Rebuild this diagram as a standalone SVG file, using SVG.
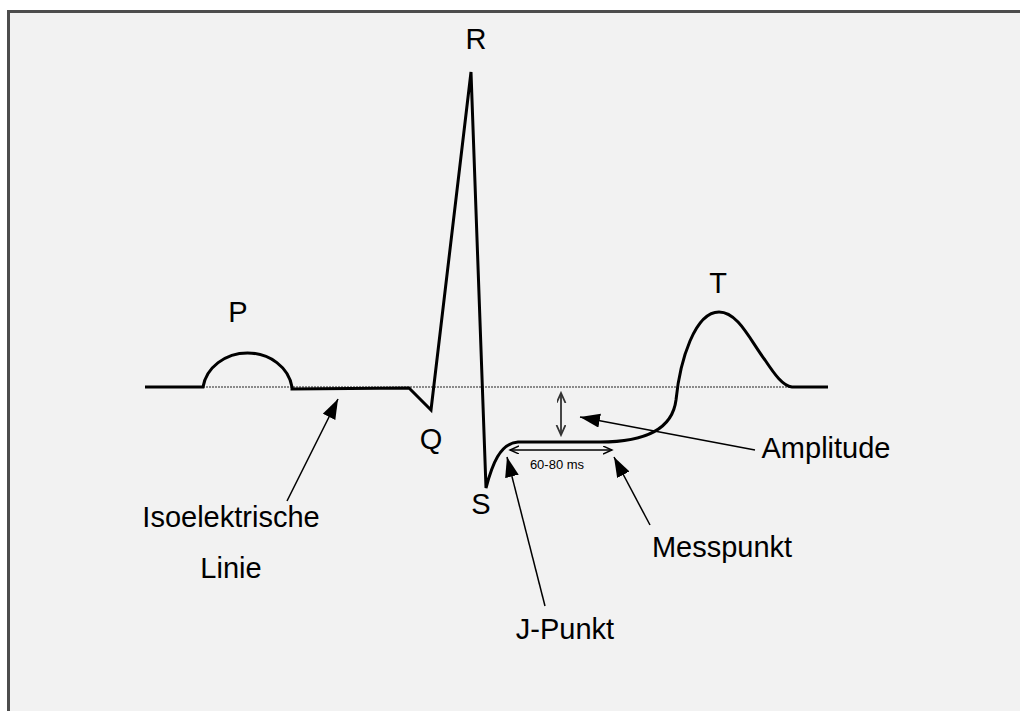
<svg xmlns="http://www.w3.org/2000/svg" width="1020" height="711" viewBox="0 0 1020 711">
<defs>
<style>
.lbl{font-family:"Liberation Sans",Arial,sans-serif;font-size:29px;fill:#000;text-anchor:middle}
.small{font-family:"Liberation Sans",Arial,sans-serif;font-size:13px;fill:#000;text-anchor:middle}
.wave{fill:none;stroke:#000;stroke-width:3;stroke-linejoin:miter}
.callout{fill:none;stroke:#000;stroke-width:1.5}
.dim{fill:none;stroke:#000;stroke-width:1.3}
</style>
<marker id="tri" markerUnits="userSpaceOnUse" markerWidth="22" markerHeight="16" refX="20" refY="7" orient="auto">
<path d="M0,0 L20,7 L0,14 z" fill="#000"/>
</marker>
<marker id="chev" markerUnits="userSpaceOnUse" markerWidth="12" markerHeight="12" refX="9" refY="4" orient="auto-start-reverse">
<path d="M0,0 L9,4 L0,8" fill="none" stroke="#000" stroke-width="1.4"/>
</marker>
<marker id="chev2" markerUnits="userSpaceOnUse" markerWidth="12" markerHeight="12" refX="10" refY="4.5" orient="auto-start-reverse">
<path d="M0,0 L10,4.5 L0,9" fill="none" stroke="#333" stroke-width="1.8"/>
</marker>
</defs>
<rect x="0" y="0" width="1020" height="711" fill="#fff"/>
<rect id="frame" x="8.5" y="11.5" width="1030" height="720" fill="#f2f2f2" stroke="#4d4d4d" stroke-width="3"/>
<g id="baseline">
<line x1="203" y1="387" x2="800" y2="387" stroke="#222" stroke-width="1.1" stroke-dasharray="2 1"/>
</g>
<g id="ecg">
<path class="wave" d="M145 387 L203 387 A45 40 0 0 1 292 387 L292 389 L409 388 L431 410 L471 72 L486 488 C492 465 500 443 518 442 L600 442 C640 442 672 432 676 400 C680 360 695 312 719 312 C738 312 750 340 765 360 C775 375 783 386 792 387 L828 387"/>
</g>
<g id="connectors">
<line class="callout" x1="287" y1="501" x2="338" y2="399" marker-end="url(#tri)"/>
<line class="callout" x1="755" y1="450" x2="580" y2="417" marker-end="url(#tri)"/>
<line class="callout" x1="650" y1="525" x2="614" y2="457" marker-end="url(#tri)"/>
<line class="callout" x1="545" y1="606" x2="507" y2="457" marker-end="url(#tri)"/>
<line class="dim" x1="510" y1="450" x2="612" y2="450" marker-start="url(#chev)" marker-end="url(#chev)"/>
<line x1="561" y1="393" x2="561" y2="435" stroke="#333" stroke-width="1.8" marker-start="url(#chev2)" marker-end="url(#chev2)"/>
</g>
<g id="label-P"><text class="lbl" x="238" y="322">P</text></g>
<g id="label-Q"><text class="lbl" x="431" y="449">Q</text></g>
<g id="label-R"><text class="lbl" x="476" y="49">R</text></g>
<g id="label-S"><text class="lbl" x="481" y="514">S</text></g>
<g id="label-T"><text class="lbl" x="718" y="293">T</text></g>
<g id="label-iso"><text class="lbl" x="231" y="527">Isoelektrische</text><text class="lbl" x="231" y="578">Linie</text></g>
<g id="label-amp"><text class="lbl" x="826" y="458">Amplitude</text></g>
<g id="label-mess"><text class="lbl" x="722" y="557">Messpunkt</text></g>
<g id="label-j"><text class="lbl" x="565" y="639">J-Punkt</text></g>
<g id="label-ms"><text class="small" x="557" y="469">60-80 ms</text></g>
</svg>
